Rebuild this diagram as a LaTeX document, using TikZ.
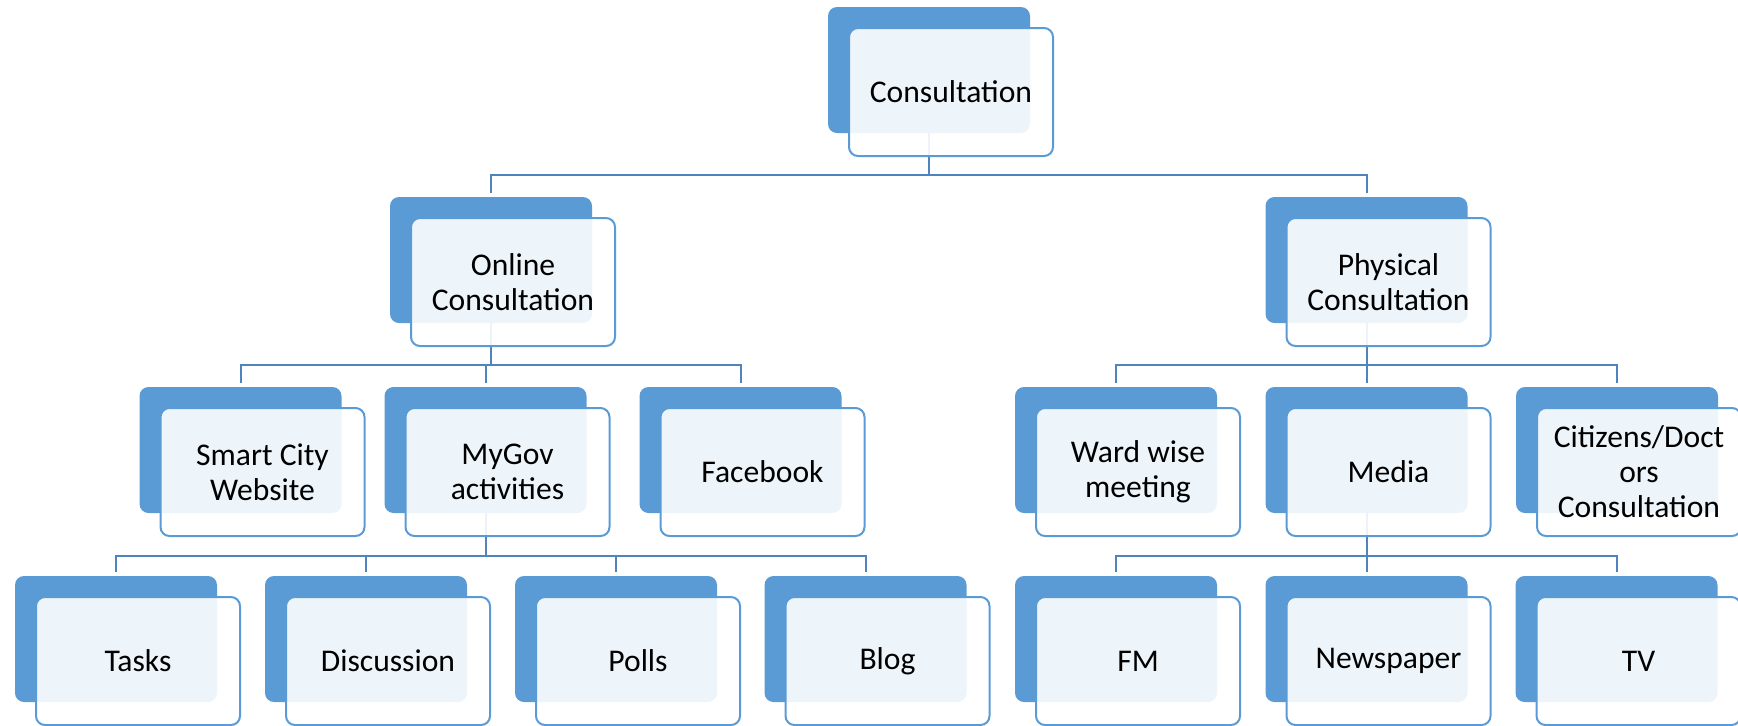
\documentclass[tikz,border=0pt]{standalone}
\usepackage{fontspec}
\setmainfont{Carlito}
\usepackage{xcolor}
\usetikzlibrary{positioning}

\definecolor{accent}{HTML}{5B9BD5}
\definecolor{linkblue}{HTML}{4F84BF}

\begin{document}
\begin{tikzpicture}[
    x=0.5pt, y=-0.5pt,
    backbox/.style={rectangle, rounded corners=4.5pt, fill=accent, minimum width=101pt, minimum height=63pt, inner sep=0pt},
    frontbox/.style={rectangle, rounded corners=4.5pt, draw=accent, line width=1pt, fill=white, fill opacity=0.9, text opacity=1, minimum width=102pt, minimum height=64pt, inner sep=0pt, align=center, font=\fontsize{15.8}{17.5}\selectfont},
    link/.style={draw=linkblue, line width=1pt, shorten >=2pt}
]
    \useasboundingbox (0,0) rectangle (1738,725);

    % Back boxes
    \node[backbox] (cons) at (929,70) {};
    \node[backbox] (online) at (491,260) {};
    \node[backbox] (physical) at (1366.5,260) {};
    \node[backbox] (smart) at (240.5,450) {};
    \node[backbox] (mygov) at (485.5,450) {};
    \node[backbox] (facebook) at (740.5,450) {};
    \node[backbox] (ward) at (1116,450) {};
    \node[backbox] (media) at (1366.5,450) {};
    \node[backbox] (citizens) at (1617,450) {};
    \node[backbox] (tasks) at (116,639) {};
    \node[backbox] (discussion) at (366,639) {};
    \node[backbox] (polls) at (616,639) {};
    \node[backbox] (blog) at (865.5,639) {};
    \node[backbox] (fm) at (1116,639) {};
    \node[backbox] (newspaper) at (1366.5,639) {};
    \node[backbox] (tv) at (1616.5,639) {};

    % Connectors
    \foreach \c in {online, physical}
        \draw[link] (cons.south) -- ++(0,-21pt) -| (\c.north);
    \foreach \c in {smart, mygov, facebook}
        \draw[link] (online.south) -- ++(0,-21pt) -| (\c.north);
    \foreach \c in {ward, media, citizens}
        \draw[link] (physical.south) -- ++(0,-21pt) -| (\c.north);
    \foreach \c in {tasks, discussion, polls, blog}
        \draw[link] (mygov.south) -- ++(0,-21.5pt) -| (\c.north);
    \foreach \c in {fm, newspaper, tv}
        \draw[link] (media.south) -- ++(0,-21.5pt) -| (\c.north);

    % Front boxes
    \node[frontbox] (cons-f) at ([shift={(11pt,-11pt)}]cons.center) {Consultation};
    \node[frontbox] (online-f) at ([shift={(11pt,-11pt)}]online.center) {Online\\Consultation};
    \node[frontbox] (physical-f) at ([shift={(11pt,-11pt)}]physical.center) {Physical\\Consultation};
    \node[frontbox] (smart-f) at ([shift={(11pt,-11pt)}]smart.center) {Smart City\\Website};
    \node[frontbox] (mygov-f) at ([shift={(11pt,-11pt)}]mygov.center) {MyGov\\activities};
    \node[frontbox] (facebook-f) at ([shift={(11pt,-11pt)}]facebook.center) {Facebook};
    \node[frontbox] (ward-f) at ([shift={(11pt,-11pt)}]ward.center) {Ward wise\\meeting};
    \node[frontbox] (media-f) at ([shift={(11pt,-11pt)}]media.center) {Media};
    \node[frontbox] (citizens-f) at ([shift={(11pt,-11pt)}]citizens.center) {Citizens/Doct\\ors\\Consultation};
    \node[frontbox] (tasks-f) at ([shift={(11pt,-11pt)}]tasks.center) {Tasks};
    \node[frontbox] (discussion-f) at ([shift={(11pt,-11pt)}]discussion.center) {Discussion};
    \node[frontbox] (polls-f) at ([shift={(11pt,-11pt)}]polls.center) {Polls};
    \node[frontbox] (blog-f) at ([shift={(11pt,-11pt)}]blog.center) {Blog};
    \node[frontbox] (fm-f) at ([shift={(11pt,-11pt)}]fm.center) {FM};
    \node[frontbox] (newspaper-f) at ([shift={(11pt,-11pt)}]newspaper.center) {Newspaper};
    \node[frontbox] (tv-f) at ([shift={(11pt,-11pt)}]tv.center) {TV};

\end{tikzpicture}
\end{document}
